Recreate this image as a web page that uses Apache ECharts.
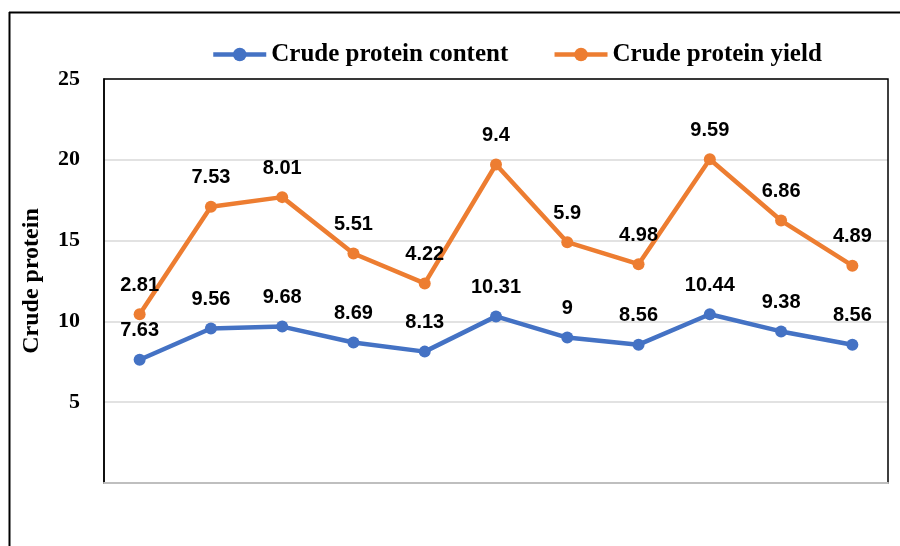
<!DOCTYPE html>
<html>
<head>
<meta charset="utf-8">
<script src="https://cdn.jsdelivr.net/npm/echarts@6/dist/echarts.min.js"></script>
<style>
html,body{margin:0;padding:0;background:#fff;}
#main{width:900px;height:546px;}
</style>
</head>
<body>
<div id="main"></div>
<script>
const categories = ['1','2','3','4','5','6','7','8','9','10','11'];
const proteinContent = [7.63, 9.56, 9.68, 8.69, 8.13, 10.31, 9, 8.56, 10.44, 9.38, 8.56];
const proteinYield = [2.81, 7.53, 8.01, 5.51, 4.22, 9.4, 5.9, 4.98, 9.59, 6.86, 4.89];
const yTicks = [0, 5, 10, 15, 20, 25];

const chart = echarts.init(document.getElementById('main'), null, {renderer: 'canvas'});
const labelStyle = {
  show: true,
  position: 'top',
  distance: 13,
  fontFamily: 'Liberation Sans',
  fontWeight: 'bold',
  fontSize: 20,
  color: '#000'
};
chart.setOption({
  animation: false,
  backgroundColor: '#fff',
  graphic: [
    {type: 'line', z: 10, shape: {x1: 9.5, y1: 12, x2: 9.5, y2: 546}, style: {stroke: '#000', lineWidth: 2}},
    {type: 'line', z: 10, shape: {x1: 9, y1: 12.5, x2: 900, y2: 12.5}, style: {stroke: '#000', lineWidth: 2}}
  ],
  legend: {
    left: 211,
    top: 42,
    padding: 0,
    itemWidth: 53,
    itemHeight: 17,
    itemGap: 44,
    lineStyle: {width: 4.5},
    textStyle: {fontFamily: 'Liberation Serif', fontWeight: 'bold', fontSize: 25, color: '#000'},
    data: ['Crude protein content', 'Crude protein yield']
  },
  grid: {
    left: 104, right: 12, top: 79, bottom: 63, z: 5,
    show: true, borderColor: '#000', borderWidth: 1.5, backgroundColor: 'transparent'
  },
  xAxis: {
    type: 'category',
    data: categories,
    boundaryGap: true,
    z: 6,
    axisLine: {show: true, lineStyle: {color: '#bfbfbf', width: 2}},
    axisTick: {show: false},
    axisLabel: {show: false}
  },
  yAxis: {
    type: 'value',
    min: yTicks[0],
    max: yTicks[yTicks.length - 1],
    interval: 5,
    name: 'Crude protein',
    nameLocation: 'middle',
    nameGap: 60,
    nameTextStyle: {fontFamily: 'Liberation Serif', fontWeight: 'bold', fontSize: 24, color: '#000'},
    axisLine: {show: true, lineStyle: {color: '#000', width: 1.5}},
    axisTick: {show: false},
    axisLabel: {
      margin: 24,
      fontFamily: 'Liberation Serif', fontWeight: 'bold', fontSize: 22, color: '#000',
      formatter: v => (v === 0 ? '' : String(v))
    },
    splitLine: {show: true, lineStyle: {color: '#d9d9d9', width: 1.5}}
  },
  series: [
    {
      name: 'Crude protein content',
      type: 'line',
      stack: 'total',
      data: proteinContent,
      symbol: 'circle',
      symbolSize: 12,
      itemStyle: {color: '#4472C4'},
      lineStyle: {color: '#4472C4', width: 4.5},
      label: labelStyle
    },
    {
      name: 'Crude protein yield',
      type: 'line',
      stack: 'total',
      data: proteinYield,
      symbol: 'circle',
      symbolSize: 12,
      itemStyle: {color: '#ED7D31'},
      lineStyle: {color: '#ED7D31', width: 4.5},
      label: labelStyle
    }
  ]
});
</script>
</body>
</html>
